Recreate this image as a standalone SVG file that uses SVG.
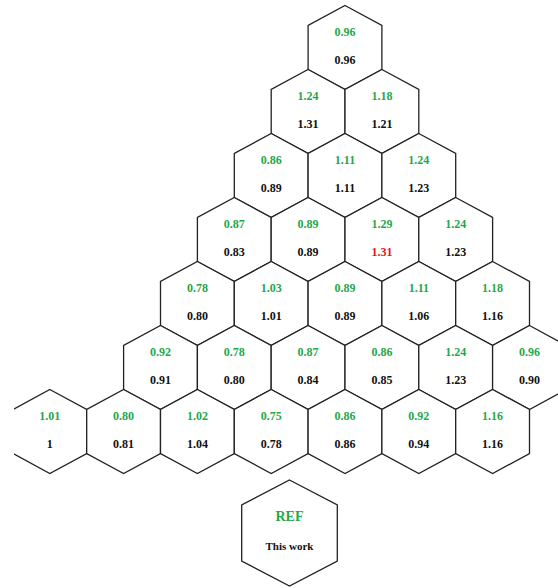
<svg xmlns="http://www.w3.org/2000/svg" xmlns:xlink="http://www.w3.org/1999/xlink" width="558" height="588" viewBox="0 0 558 588">
<style>
.hx{fill:#fff;stroke:#222;stroke-width:1.3;stroke-linejoin:miter}
text{font-family:"Liberation Serif","Times New Roman",serif;font-weight:bold;text-anchor:middle;font-size:12px}
.g{fill:#1fa84c}
.b{fill:#111}
.r{fill:#e8141c}
</style>
<defs>
<path id="hex" class="hx" d="M0,-42 L36.9,-22 L36.9,22 L0,42 L-36.9,22 L-36.9,-22 Z"/>
<clipPath id="clipL"><rect x="14" y="0" width="544" height="588"/></clipPath>
</defs>
<rect width="558" height="588" fill="#fff"/>
<g id="nodes">
<g id="r0c0" transform="translate(345,47.5)"><use href="#hex"/><text class="g" y="-11.5">0.96</text><text class="b" y="16">0.96</text></g>

<g id="r1c0" transform="translate(308.1,111.5)"><use href="#hex"/><text class="g" y="-11.5">1.24</text><text class="b" y="16">1.31</text></g>
<g id="r1c1" transform="translate(381.9,111.5)"><use href="#hex"/><text class="g" y="-11.5">1.18</text><text class="b" y="16">1.21</text></g>

<g id="r2c0" transform="translate(271.2,175.5)"><use href="#hex"/><text class="g" y="-11.5">0.86</text><text class="b" y="16">0.89</text></g>
<g id="r2c1" transform="translate(345,175.5)"><use href="#hex"/><text class="g" y="-11.5">1.11</text><text class="b" y="16">1.11</text></g>
<g id="r2c2" transform="translate(418.8,175.5)"><use href="#hex"/><text class="g" y="-11.5">1.24</text><text class="b" y="16">1.23</text></g>

<g id="r3c0" transform="translate(234.3,239.5)"><use href="#hex"/><text class="g" y="-11.5">0.87</text><text class="b" y="16">0.83</text></g>
<g id="r3c1" transform="translate(308.1,239.5)"><use href="#hex"/><text class="g" y="-11.5">0.89</text><text class="b" y="16">0.89</text></g>
<g id="r3c2" transform="translate(381.9,239.5)"><use href="#hex"/><text class="g" y="-11.5">1.29</text><text class="r" y="16">1.31</text></g>
<g id="r3c3" transform="translate(455.7,239.5)"><use href="#hex"/><text class="g" y="-11.5">1.24</text><text class="b" y="16">1.23</text></g>

<g id="r4c0" transform="translate(197.4,303.5)"><use href="#hex"/><text class="g" y="-11.5">0.78</text><text class="b" y="16">0.80</text></g>
<g id="r4c1" transform="translate(271.2,303.5)"><use href="#hex"/><text class="g" y="-11.5">1.03</text><text class="b" y="16">1.01</text></g>
<g id="r4c2" transform="translate(345,303.5)"><use href="#hex"/><text class="g" y="-11.5">0.89</text><text class="b" y="16">0.89</text></g>
<g id="r4c3" transform="translate(418.8,303.5)"><use href="#hex"/><text class="g" y="-11.5">1.11</text><text class="b" y="16">1.06</text></g>
<g id="r4c4" transform="translate(492.6,303.5)"><use href="#hex"/><text class="g" y="-11.5">1.18</text><text class="b" y="16">1.16</text></g>

<g id="r5c0" transform="translate(160.5,367.5)"><use href="#hex"/><text class="g" y="-11.5">0.92</text><text class="b" y="16">0.91</text></g>
<g id="r5c1" transform="translate(234.3,367.5)"><use href="#hex"/><text class="g" y="-11.5">0.78</text><text class="b" y="16">0.80</text></g>
<g id="r5c2" transform="translate(308.1,367.5)"><use href="#hex"/><text class="g" y="-11.5">0.87</text><text class="b" y="16">0.84</text></g>
<g id="r5c3" transform="translate(381.9,367.5)"><use href="#hex"/><text class="g" y="-11.5">0.86</text><text class="b" y="16">0.85</text></g>
<g id="r5c4" transform="translate(455.7,367.5)"><use href="#hex"/><text class="g" y="-11.5">1.24</text><text class="b" y="16">1.23</text></g>
<g id="r5c5" transform="translate(529.5,367.5)"><use href="#hex"/><text class="g" y="-11.5">0.96</text><text class="b" y="16">0.90</text></g>

<g id="r6c0" clip-path="url(#clipL)"><g transform="translate(49.8,431.5)"><use href="#hex"/><text class="g" y="-11.5">1.01</text><text class="b" y="16">1</text></g></g>
<g id="r6c1" transform="translate(123.6,431.5)"><use href="#hex"/><text class="g" y="-11.5">0.80</text><text class="b" y="16">0.81</text></g>
<g id="r6c2" transform="translate(197.4,431.5)"><use href="#hex"/><text class="g" y="-11.5">1.02</text><text class="b" y="16">1.04</text></g>
<g id="r6c3" transform="translate(271.2,431.5)"><use href="#hex"/><text class="g" y="-11.5">0.75</text><text class="b" y="16">0.78</text></g>
<g id="r6c4" transform="translate(345,431.5)"><use href="#hex"/><text class="g" y="-11.5">0.86</text><text class="b" y="16">0.86</text></g>
<g id="r6c5" transform="translate(418.8,431.5)"><use href="#hex"/><text class="g" y="-11.5">0.92</text><text class="b" y="16">0.94</text></g>
<g id="r6c6" transform="translate(492.6,431.5)"><use href="#hex"/><text class="g" y="-11.5">1.16</text><text class="b" y="16">1.16</text></g>

<g id="legend" transform="translate(289.5,533)"><path class="hx" d="M0,-53 L47.8,-28 L47.8,28 L0,53 L-47.8,28 L-47.8,-28 Z"/><text class="g" y="-12" style="font-size:14px">REF</text><text class="b" y="17" style="font-size:11px">This work</text></g>
</g>
</svg>
